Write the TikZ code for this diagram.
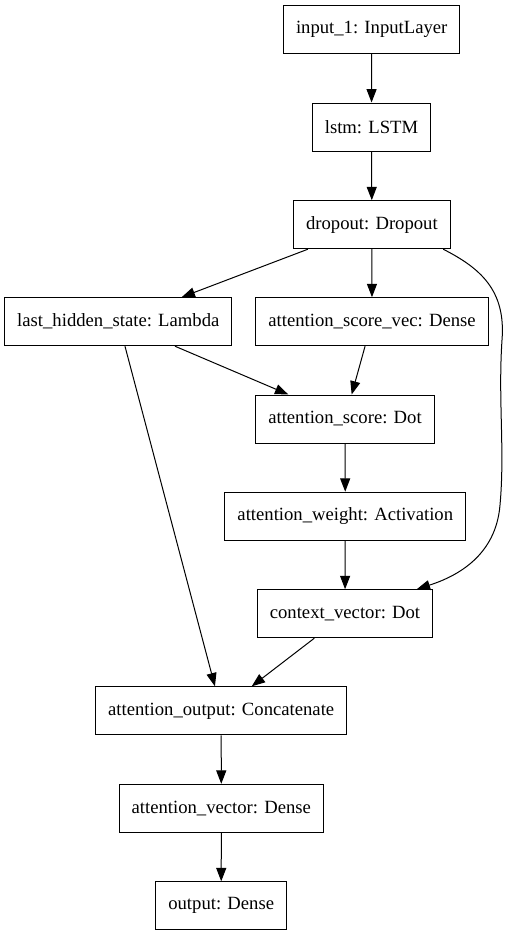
\documentclass[tikz,border=0pt]{standalone}
\usepackage{fontspec}
\setmainfont{Liberation Serif}
\usepackage{tikz}
\usetikzlibrary{arrows.meta}

\begin{document}
\begin{tikzpicture}[
    x=0.75pt,
    y=-0.75pt,
    layer/.style={
        rectangle,
        draw=black,
        line width=0.75pt,
        align=center,
        inner xsep=9.4pt,
        minimum height=36pt,
        font=\rmfamily\fontsize{14}{16}\selectfont
    },
    arrow/.style={-{Triangle[length=10pt,width=7.5pt]}, line width=0.75pt}
]

\useasboundingbox (0,0) rectangle (509,936);

\node[layer] (input) at (371.7,29.7) {input\_1: InputLayer};
\node[layer] (lstm) at (371.5,127) {lstm: LSTM};
\node[layer] (dropout) at (371.9,224.7) {dropout: Dropout};
\node[layer] (lasthidden) at (118.3,321.7) {last\_hidden\_state: Lambda};
\node[layer] (scorevec) at (372,321.7) {attention\_score\_vec: Dense};
\node[layer] (score) at (345,419) {attention\_score: Dot};
\node[layer] (weight) at (345.3,516.2) {attention\_weight: Activation};
\node[layer] (context) at (345,613.7) {context\_vector: Dot};
\node[layer] (attout) at (221.2,710.8) {attention\_output: Concatenate};
\node[layer] (attvec) at (221.3,808.3) {attention\_vector: Dense};
\node[layer] (output) at (221.2,905.8) {output: Dense};

\draw[arrow] (input) -- (lstm);
\draw[arrow] (lstm) -- (dropout);

\draw[arrow] ([xshift=-48pt]dropout.south) -- ([xshift=47.5pt]lasthidden.north);
\draw[arrow] (dropout) -- (scorevec);
\draw[arrow] ([xshift=53.5pt]dropout.south)
    .. controls (480,268) and (506,290) .. (502,340)
    .. controls (498,400) and (505,450) .. (500,505)
    .. controls (496,555) and (458,576) .. ([xshift=53.8pt]context.north);

\draw[arrow] ([xshift=42.5pt]lasthidden.south) -- ([xshift=-42.5pt]score.north);
\draw[arrow] ([xshift=5pt]lasthidden.south) -- ([xshift=-4.7pt]attout.north);
\draw[arrow] ([xshift=-5.2pt]scorevec.south) -- ([xshift=5pt]score.north);

\draw[arrow] (score) -- (weight);
\draw[arrow] (weight) -- (context);
\draw[arrow] ([xshift=-23pt]context.south) -- ([xshift=22.9pt]attout.north);

\draw[arrow] (attout) -- (attvec);
\draw[arrow] (attvec) -- (output);

\end{tikzpicture}
\end{document}
